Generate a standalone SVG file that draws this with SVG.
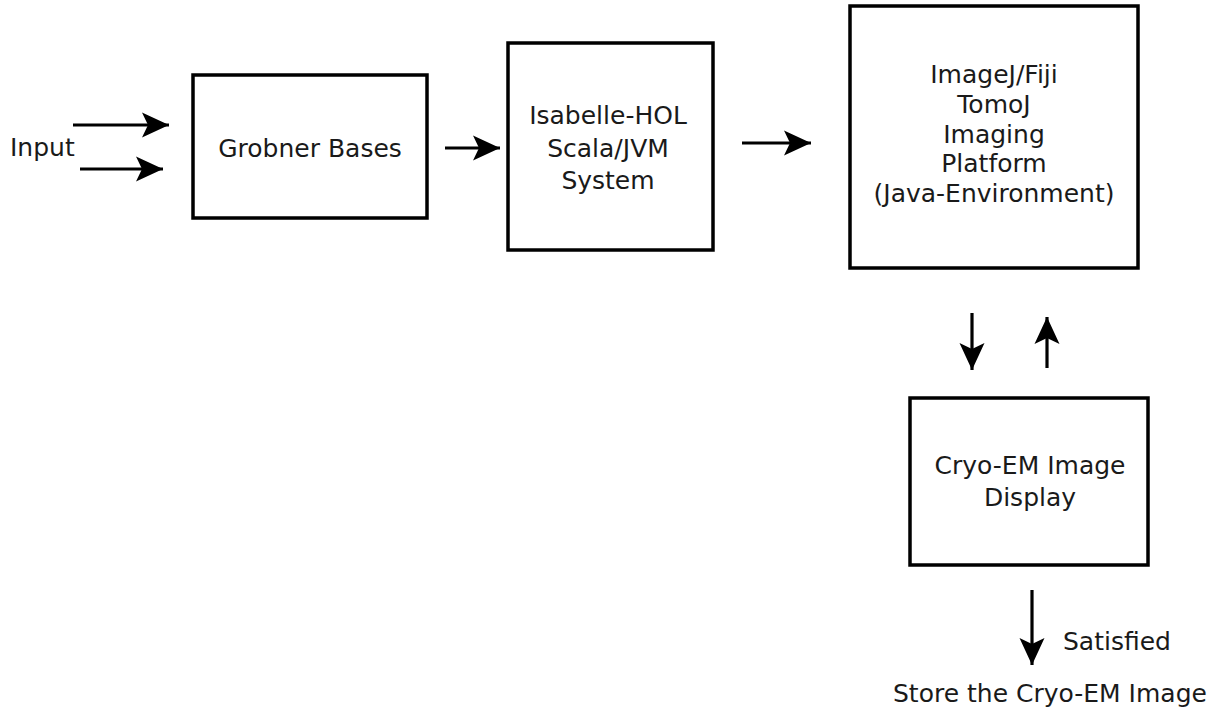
<svg xmlns="http://www.w3.org/2000/svg" width="1219" height="712" viewBox="0 0 1219 712">
<style>
.box{fill:#fff;stroke:#000;stroke-width:3.5}
.t{font-family:"DejaVu Sans",sans-serif;font-size:25px;fill:#1a1a1a}
.c{text-anchor:middle}
.ln{stroke:#000;stroke-width:3.2;fill:none;marker-end:url(#ah)}
</style>
<defs>
<marker id="ah" markerUnits="userSpaceOnUse" viewBox="-1 -14 30 28" markerWidth="30" markerHeight="28" refX="27" refY="0" orient="auto">
<path d="M0,-12.5 L27,0 L0,12.5 L6,0 z" fill="#000"/>
</marker>
</defs>
<rect width="1219" height="712" fill="#fff"/>
<g id="connectors">
<line class="ln" x1="73" y1="125" x2="169" y2="125"/>
<line class="ln" x1="80" y1="169" x2="163" y2="169"/>
<line class="ln" x1="445" y1="148" x2="500" y2="148"/>
<line class="ln" x1="742" y1="143" x2="811" y2="143"/>
<line class="ln" x1="972" y1="313" x2="972" y2="370"/>
<line class="ln" x1="1047" y1="368" x2="1047" y2="317"/>
<line class="ln" x1="1032" y1="590" x2="1032" y2="665"/>
</g>
<g id="input"><text class="t" x="10" y="156">Input</text></g>
<g id="grobner">
<rect class="box" x="193" y="75" width="234" height="143"/>
<text class="t c" x="310" y="157">Grobner Bases</text>
</g>
<g id="isabelle">
<rect class="box" x="508" y="43" width="205" height="207"/>
<text class="t c" x="608" y="124">Isabelle-HOL</text>
<text class="t c" x="608" y="157">Scala/JVM</text>
<text class="t c" x="608" y="189">System</text>
</g>
<g id="imagej">
<rect class="box" x="850" y="6" width="288" height="262"/>
<text class="t c" x="994" y="83">ImageJ/Fiji</text>
<text class="t c" x="994" y="113">TomoJ</text>
<text class="t c" x="994" y="143">Imaging</text>
<text class="t c" x="994" y="172">Platform</text>
<text class="t c" x="994" y="202">(Java-Environment)</text>
</g>
<g id="cryo">
<rect class="box" x="910" y="398" width="238" height="167"/>
<text class="t c" x="1030" y="474">Cryo-EM Image</text>
<text class="t c" x="1030" y="506">Display</text>
</g>
<g id="labels">
<text class="t" x="1063" y="650">Satisfied</text>
<text class="t" x="893" y="702">Store the Cryo-EM Image</text>
</g>
</svg>
